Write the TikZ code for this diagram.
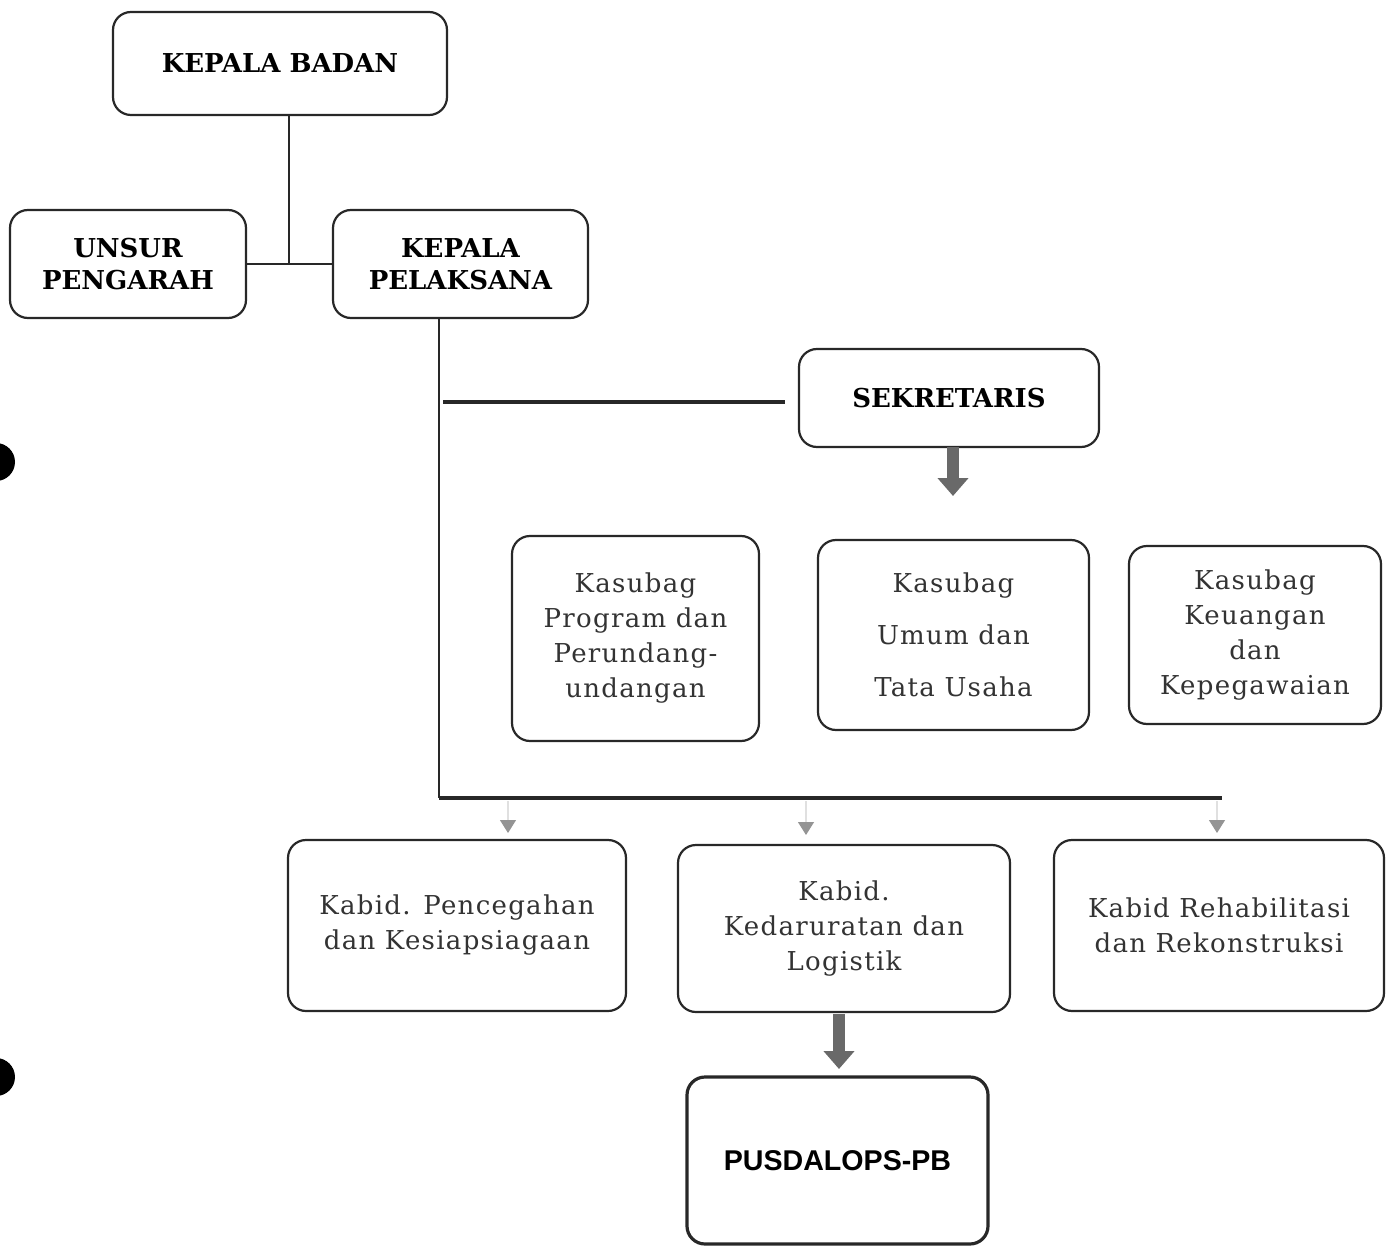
\documentclass[tikz,border=0pt]{standalone}
\usepackage{fontspec}
\setmainfont{DejaVu Serif}
\newfontfamily\bodyfont[LetterSpace=5]{DejaVu Serif}
\newfontfamily\pusfont{Liberation Sans}
\usetikzlibrary{arrows.meta}
\definecolor{ink}{RGB}{40,40,40}
\definecolor{arrowgray}{RGB}{105,105,105}
\tikzset{
  x=0.5pt, y=-0.5pt,
  box/.style={draw=ink, line width=1.1pt, rounded corners=9pt, align=center, inner sep=2pt, fill=white},
  headbox/.style={box, font=\fontsize{13}{16}\selectfont\bfseries},
  bodybox/.style={box, font=\bodyfont\fontsize{13}{17.5}\selectfont, text=black!80},
  conn/.style={draw=ink, line width=0.8pt},
  bus/.style={draw=ink, line width=1.6pt},
  bigarrow/.style={draw=arrowgray, line width=6pt, -{Triangle[width=15pt,length=9pt]}},
  smallarrow/.style={draw=black!12, line width=0.6pt, -{Triangle[width=8pt,length=6.5pt,color=black!42]}},
  blob/.style={fill=black},
}
\begin{document}
\begin{tikzpicture}
\useasboundingbox (0,0) rectangle (1387,1246);
\fill[blob] (-4,462) circle (19);
\fill[blob] (-4,1077) circle (19);

\node[headbox, minimum width=167pt, minimum height=51.5pt] (kb) at (280,63.5) {KEPALA BADAN};
\node[headbox, minimum width=118pt, minimum height=54pt] (up) at (128,264) {UNSUR\\PENGARAH};
\node[headbox, minimum width=127.5pt, minimum height=54pt] (kp) at (460.5,264) {KEPALA\\PELAKSANA};
\node[headbox, minimum width=150pt, minimum height=49pt] (sek) at (949,398) {SEKRETARIS};

\node[bodybox, minimum width=123.5pt, minimum height=102.5pt] (ks1) at (635.5,638.5) {Kasubag\\Program dan\\Perundang-\\undangan};
\node[bodybox, minimum width=135.5pt, minimum height=95pt, font=\bodyfont\fontsize{13}{26}\selectfont] (ks2) at (953.5,635) {Kasubag\\Umum dan\\Tata Usaha};
\node[bodybox, minimum width=126pt, minimum height=89pt] (ks3) at (1255,635) {Kasubag\\Keuangan\\dan\\Kepegawaian};

\node[bodybox, minimum width=169pt, minimum height=85.5pt] (kd1) at (457,925.5) {Kabid. Pencegahan\\dan Kesiapsiagaan};
\node[bodybox, minimum width=166pt, minimum height=83.5pt] (kd2) at (844,928.5) {Kabid.\\Kedaruratan dan\\Logistik};
\node[bodybox, minimum width=165pt, minimum height=85.5pt] (kd3) at (1219,925.5) {Kabid Rehabilitasi\\dan Rekonstruksi};

\node[box, line width=1.6pt, minimum width=150.5pt, minimum height=83.5pt, font=\pusfont\fontsize{14.3}{17}\selectfont\bfseries] (pus) at (837.5,1160.5) {PUSDALOPS-PB};

% top connectors
\coordinate (j) at (289,263);
\draw[conn] (j |- kb.south) -- (j);
\draw[conn] (up.east) -- (kp.west);

% main vertical and bus
\coordinate (vtop) at (439,318);
\coordinate (bL) at (439,798);
\coordinate (bR) at (1222,798);
\draw[conn] (vtop |- kp.south) -- (bL);
\draw[bus] (bL) -- (bR);

% sekretaris line
\coordinate (s1) at (443,402);
\coordinate (s2) at (785,402);
\draw[bus] (s1) -- (s2);

% big arrows
\draw[bigarrow] (953,447) -- (953,496);
\draw[bigarrow] (839,1014) -- (839,1069);

% small arrows from bus
\coordinate (a1) at (508,801);
\coordinate (a2) at (806,801);
\coordinate (a3) at (1217,801);
\draw[smallarrow] (a1) -- (508,833);
\draw[smallarrow] (a2) -- (806,835);
\draw[smallarrow] (a3) -- (1217,833);
\end{tikzpicture}
\end{document}
